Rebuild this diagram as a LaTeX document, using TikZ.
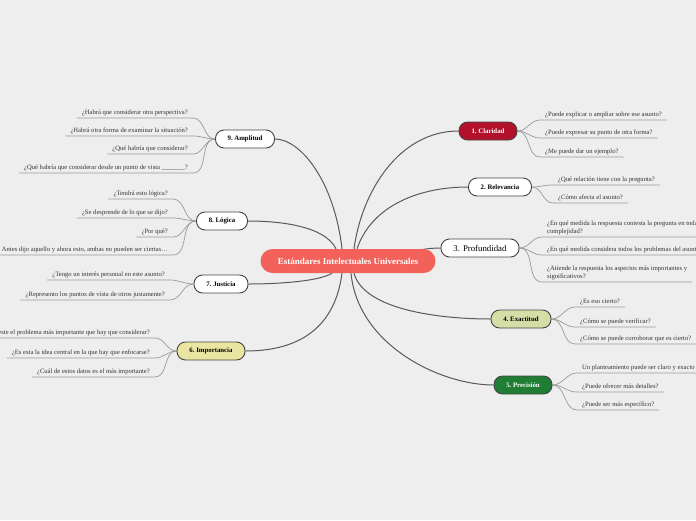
\documentclass[tikz,border=0pt]{standalone}
\usepackage{fontspec}
\setmainfont{Liberation Serif}
\usetikzlibrary{backgrounds,calc}
\definecolor{bg}{HTML}{EEEEEE}
\definecolor{trunkc}{HTML}{5A5A5A}
\definecolor{twigc}{HTML}{9A9A9A}
\definecolor{nodeborder}{HTML}{444444}
\definecolor{txt}{HTML}{333333}
\definecolor{centralc}{HTML}{F2625A}
\definecolor{claridad}{HTML}{B3102C}
\definecolor{exact}{HTML}{D6DEA8}
\definecolor{precis}{HTML}{1F7E34}
\definecolor{import}{HTML}{EAE6A2}
\tikzset{
  leaf/.style={font=\fontsize{6.6}{8}\selectfont, text=txt, inner xsep=5pt, inner ysep=2pt, align=left},
  rleaf/.style={leaf, anchor=south west},
  lleaf/.style={leaf, anchor=south east},
  mainbox/.style={draw=nodeborder, line width=0.9pt, rounded corners=8.5pt, minimum height=18pt, inner sep=2pt, font=\fontsize{6.8}{8}\selectfont\bfseries, text=black},
  centralbox/.style={fill=centralc, rounded corners=12pt, minimum height=24pt, minimum width=175pt, text=white, font=\fontsize{9}{10}\selectfont\bfseries},
  trunk/.style={draw=trunkc, line width=1pt},
  twig/.style={draw=twigc, line width=0.7pt},
}
\begin{document}
\begin{tikzpicture}[x=1pt,y=-1pt]
\useasboundingbox (0,0) rectangle (696,520);
% central
\node[centralbox] (c) at (348,261) {Estándares Intelectuales Universales};
% main nodes
\node[mainbox, fill=claridad, text=white, minimum width=58pt] (n1) at (488,131) {1.\ Claridad};
\node[mainbox, fill=white, minimum width=63pt] (n2) at (500,187) {2.\ Relevancia};
\node[mainbox, fill=white, minimum width=78pt, font=\fontsize{8.8}{10}\selectfont] (n3) at (480,248) {3. Profundidad};
\node[mainbox, fill=exact, minimum width=60pt] (n4) at (521,319) {4.\ Exactitud};
\node[mainbox, fill=precis, text=white, minimum width=58pt] (n5) at (523,385) {5.\ Precisión};
\node[mainbox, fill=import, minimum width=68pt] (n6) at (211,351) {6.\ Importancia};
\node[mainbox, fill=white, minimum width=54pt] (n7) at (221,284) {7.\ Justicia};
\node[mainbox, fill=white, minimum width=51pt] (n8) at (222,221) {8.\ Lógica};
\node[mainbox, fill=white, minimum width=59pt] (n9) at (245,139) {9.\ Amplitud};
% right leaves
\node[rleaf] (l1a) at (540,120) {¿Puede explicar o ampliar sobre ese asunto?};
\node[rleaf] (l1b) at (540,138) {¿Puede expresar su punto de otra forma?};
\node[rleaf] (l1c) at (540,157) {¿Me puede dar un ejemplo?};
\node[rleaf] (l2a) at (553,185) {¿Qué relación tiene con la pregunta?};
\node[rleaf] (l2b) at (553,203) {¿Cómo afecta el asunto?};
\node[rleaf] (l3a) at (542,237) {¿En qué medida la respuesta contesta la pregunta en toda su\\complejidad?};
\node[rleaf] (l3b) at (542,255) {¿En qué medida considera todos los problemas del asunto?};
\node[rleaf] (l3c) at (542,282) {¿Atiende la respuesta los aspectos más importantes y\\significativos?};
\node[rleaf] (l4a) at (575,307) {¿Es eso cierto?};
\node[rleaf] (l4b) at (575,327) {¿Cómo se puede verificar?};
\node[rleaf] (l4c) at (575,344) {¿Cómo se puede corroborar que es cierto?};
\node[rleaf] (l5a) at (577,373) {Un planteamiento puede ser claro y exacto pero no preciso};
\node[rleaf] (l5b) at (577,392) {¿Puede ofrecer más detalles?};
\node[rleaf] (l5c) at (577,410) {¿Puede ser más específico?};
% left leaves
\node[lleaf] (l9a) at (193,118) {¿Habrá que considerar otra perspectiva?};
\node[lleaf] (l9b) at (193,136) {¿Habrá otra forma de examinar la situación?};
\node[lleaf] (l9c) at (193,154) {¿Qué habría que considerar?};
\node[lleaf] (l9d) at (193,173) {¿Qué habría que considerar desde un punto de vista \_\_\_\_\_\_\_?};
\node[lleaf] (l8a) at (173,199) {¿Tendrá esto lógica?};
\node[lleaf] (l8b) at (173,218) {¿Se desprende de lo que se dijo?};
\node[lleaf] (l8c) at (173,237) {¿Por qué?};
\node[lleaf] (l8d) at (173,255) {Antes dijo aquello y ahora esto, ambas no pueden ser ciertas…};
\node[lleaf] (l7a) at (170,280) {¿Tengo un interés personal en este asunto?};
\node[lleaf] (l7b) at (170,300) {¿Represento los puntos de vista de otros justamente?};
\node[lleaf] (l6a) at (155,338) {¿Es este el problema más importante que hay que considerar?};
\node[lleaf] (l6b) at (155,358) {¿Es esta la idea central en la que hay que enfocarse?};
\node[lleaf] (l6c) at (155,377) {¿Cuál de estos datos es el más importante?};
\begin{scope}[on background layer]
\fill[bg] (0,0) rectangle (696,520);
% trunks
\draw[trunk] ($(c.north)+(6,0)$) .. controls (362,190) and (400,131) .. (n1.west);
\draw[trunk] ($(c.north)+(9,0)$) .. controls (372,205) and (420,187) .. (n2.west);
\draw[trunk] (c.center) to[out=-8,in=180] (n3.west);
\draw[trunk] ($(c.south)+(6,0)$) .. controls (364,310) and (440,319) .. (n4.west);
\draw[trunk] ($(c.south)+(3,0)$) .. controls (358,345) and (440,385) .. (n5.west);
\draw[trunk] ($(c.south)+(-6,0)$) .. controls (334,335) and (290,351) .. (n6.east);
\draw[trunk] ($(c.south)+(-16,0)$) .. controls (320,281) and (280,284) .. (n7.east);
\draw[trunk] ($(c.north)+(-12,0)$) .. controls (325,226) and (280,221) .. (n8.east);
\draw[trunk] ($(c.north)+(-6,0)$) .. controls (334,180) and (300,139) .. (n9.east);
% twigs right
\foreach \p/\l in {n1/l1a,n1/l1b,n1/l1c,n2/l2a,n2/l2b,n3/l3a,n3/l3b,n3/l3c,n4/l4a,n4/l4b,n4/l4c,n5/l5a,n5/l5b,n5/l5c}
  \draw[twig] (\p.east) to[out=0,in=180] (\l.south west) -- (\l.south east);
% twigs left
\foreach \p/\l in {n9/l9a,n9/l9b,n9/l9c,n9/l9d,n8/l8a,n8/l8b,n8/l8c,n8/l8d,n7/l7a,n7/l7b,n6/l6a,n6/l6b,n6/l6c}
  \draw[twig] (\p.west) to[out=180,in=0] (\l.south east) -- (\l.south west);
\end{scope}
\end{tikzpicture}
\end{document}
